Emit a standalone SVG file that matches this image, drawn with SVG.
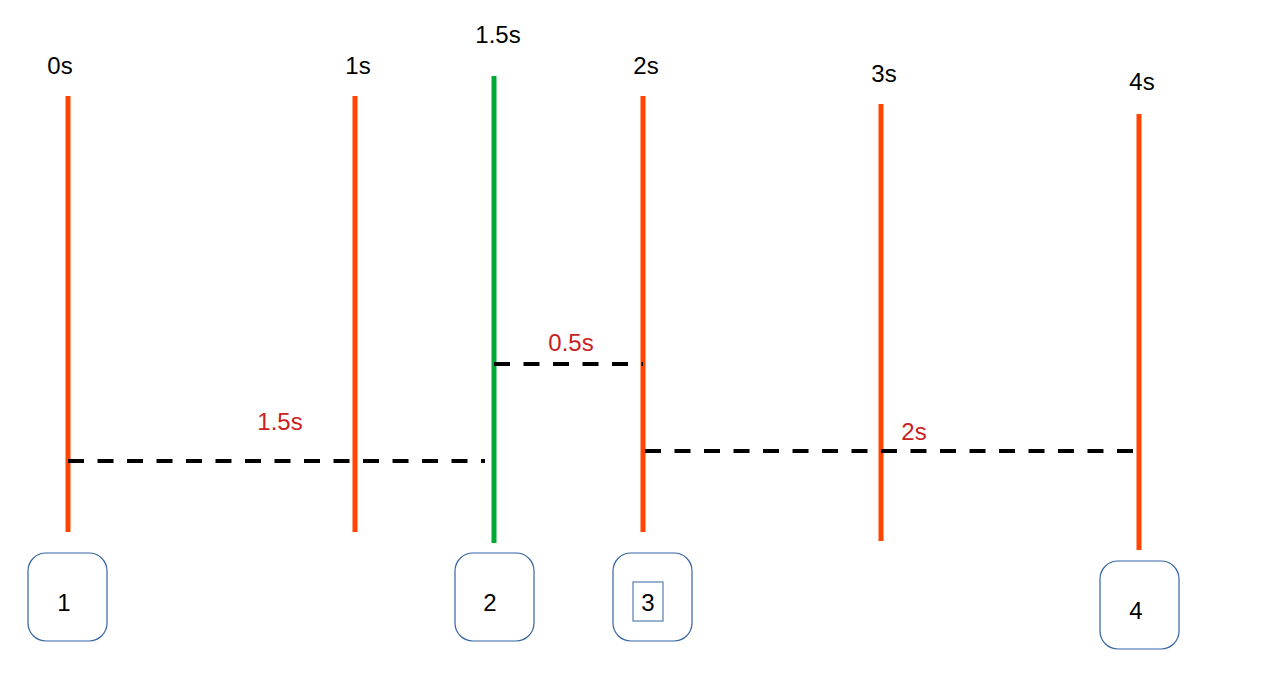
<svg xmlns="http://www.w3.org/2000/svg" width="1264" height="676" viewBox="0 0 1264 676">
<style>
text{font-family:"Liberation Sans",Arial,sans-serif;font-size:24px;text-anchor:middle;fill:#000}
.red{stroke:#ff4500;stroke-width:5}
.green{stroke:#00a933;stroke-width:5}
.dash{stroke:#000;stroke-width:4;stroke-dasharray:16 13.5;fill:none}
.lbl{fill:#c9211e}
.box{fill:#fff;stroke:#3465a4;stroke-width:1.2}
.num{font-size:24px}
</style>
<rect width="1264" height="676" fill="#fff"/>
<g id="timeline-0s"><line class="red" x1="68" y1="96" x2="68" y2="532"/><text x="60" y="74">0s</text></g>
<g id="timeline-1s"><line class="red" x1="355" y1="96" x2="355" y2="532"/><text x="358" y="74">1s</text></g>
<g id="timeline-1-5s"><line class="green" x1="494" y1="76" x2="494" y2="543"/><text x="498" y="43">1.5s</text></g>
<g id="timeline-2s"><line class="red" x1="643" y1="96" x2="643" y2="532"/><text x="646" y="74">2s</text></g>
<g id="timeline-3s"><line class="red" x1="881" y1="104" x2="881" y2="541"/><text x="884" y="82">3s</text></g>
<g id="timeline-4s"><line class="red" x1="1139" y1="114" x2="1139" y2="550"/><text x="1142" y="90">4s</text></g>
<g id="connectors">
<line class="dash" x1="68" y1="461" x2="485" y2="461"/>
<line class="dash" x1="494" y1="364" x2="643" y2="364"/>
<line class="dash" x1="645" y1="451" x2="1133" y2="451"/>
<text class="lbl" x="280" y="430">1.5s</text>
<text class="lbl" x="571" y="351">0.5s</text>
<text class="lbl" x="914" y="440">2s</text>
</g>
<g id="node-1"><rect class="box" x="28" y="553" width="79" height="88" rx="18"/><text class="num" x="64" y="611">1</text></g>
<g id="node-2"><rect class="box" x="455" y="553" width="79" height="88" rx="18"/><text class="num" x="490" y="611">2</text></g>
<g id="node-3"><rect class="box" x="613" y="553" width="79" height="88" rx="18"/><rect x="633" y="582" width="30" height="39" fill="none" stroke="#3465a4" stroke-width="1"/><text class="num" x="648" y="611">3</text></g>
<g id="node-4"><rect class="box" x="1100" y="561" width="79" height="88" rx="18"/><text class="num" x="1136" y="619">4</text></g>
</svg>
